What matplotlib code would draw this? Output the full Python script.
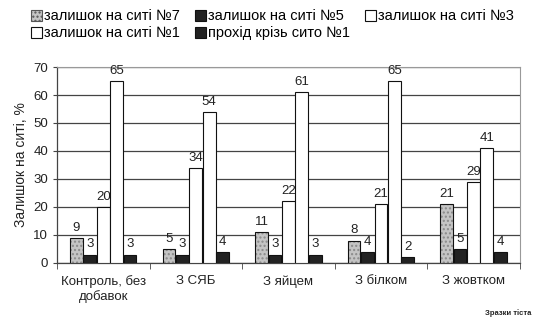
import matplotlib
matplotlib.use("Agg")
import matplotlib.pyplot as plt
import numpy as np

plt.rcParams['font.family'] = ['Liberation Sans', 'DejaVu Sans']

categories = ["Контроль, без\nдобавок", "З СЯБ", "З яйцем", "З білком", "З жовтком"]
series_names = ["залишок на ситі №7", "залишок на ситі №5", "залишок на ситі №3",
                "залишок на ситі №1", "прохід крізь сито №1"]
sieve7 = [9, 5, 11, 8, 21]
sieve5 = [3, 3, 3, 4, 5]
sieve3 = [20, 34, 22, 21, 29]
sieve1 = [65, 54, 61, 65, 41]
passed1 = [3, 4, 3, 2, 4]
yticks = [0, 10, 20, 30, 40, 50, 60, 70]

series = [sieve7, sieve5, sieve3, sieve1, passed1]
facecolors = ["#c4c4c4", "#222222", "white", "white", "#222222"]
hatches = ["....", None, None, None, None]

fig = plt.figure(figsize=(5.45, 3.27), dpi=100)
ax = fig.add_axes([0.1046, 0.196, 0.849, 0.599])

x = np.arange(len(categories))
w = 0.145
handles = []
for i, (vals, fc, h) in enumerate(zip(series, facecolors, hatches)):
    pos = x + (i - 2) * w
    if h:
        ax.bar(pos, vals, width=w * 0.95, color=fc, edgecolor="#8a8a8a",
               linewidth=0, hatch=h, zorder=3)
        bars = ax.bar(pos, vals, width=w * 0.95, facecolor="none", edgecolor="#111111",
                      linewidth=0.8, zorder=3.5, label=series_names[i])
        import matplotlib.patches as mpatches
        handle = mpatches.Patch(facecolor=fc, edgecolor="#555555", hatch=h, linewidth=0.8)
    else:
        bars = ax.bar(pos, vals, width=w * 0.95, color=fc, edgecolor="#111111",
                      linewidth=0.8, label=series_names[i], zorder=3)
        handle = bars
    handles.append(handle)
    for p, v in zip(pos, vals):
        ax.annotate(str(v), (p, v), xytext=(0, 3), textcoords="offset points",
                    ha="center", va="bottom", fontsize=9.5, color="#222222", zorder=4)

ax.set_xlim(-0.5, len(categories) - 0.5)
ax.set_ylim(0, 70)
ax.set_yticks(yticks)
ax.set_yticklabels([str(t) for t in yticks], fontsize=9.5, color="#222222")
ax.yaxis.grid(True, color="#444444", linewidth=0.9, zorder=0)
ax.set_axisbelow(True)

ax.set_xticks(x)
ax.set_xticklabels(categories, fontsize=9.5, color="#222222")
ax.tick_params(axis="x", length=0, pad=9)
ax.set_xticks(np.arange(-0.5, len(categories) + 0.5, 1), minor=True)
ax.tick_params(axis="x", which="minor", length=4, direction="out", color="#444444")
ax.tick_params(axis="y", length=3, color="#444444")

for side in ["top", "right"]:
    ax.spines[side].set_color("#999999")
    ax.spines[side].set_linestyle((0, (3, 1)))
    ax.spines[side].set_linewidth(0.8)
for side in ["left", "bottom"]:
    ax.spines[side].set_color("#444444")
    ax.spines[side].set_linewidth(0.9)

ax.set_ylabel("Залишок на ситі, %", fontsize=10, color="#222222", labelpad=4)

order = [0, 3, 1, 4, 2]
leg = fig.legend([handles[k] for k in order], [series_names[k] for k in order],
                 loc="upper left", bbox_to_anchor=(0.04, 1.0), ncol=3, frameon=False,
                 fontsize=10.5, handlelength=0.75, handleheight=0.75, handletextpad=0.15,
                 columnspacing=1.0, labelspacing=0.2, borderaxespad=0.25)

fig.text(0.975, 0.03, "Зразки тіста", fontsize=5.5, fontweight="bold",
         ha="right", va="bottom", color="#222222")

fig.savefig("out.png", dpi=100)
